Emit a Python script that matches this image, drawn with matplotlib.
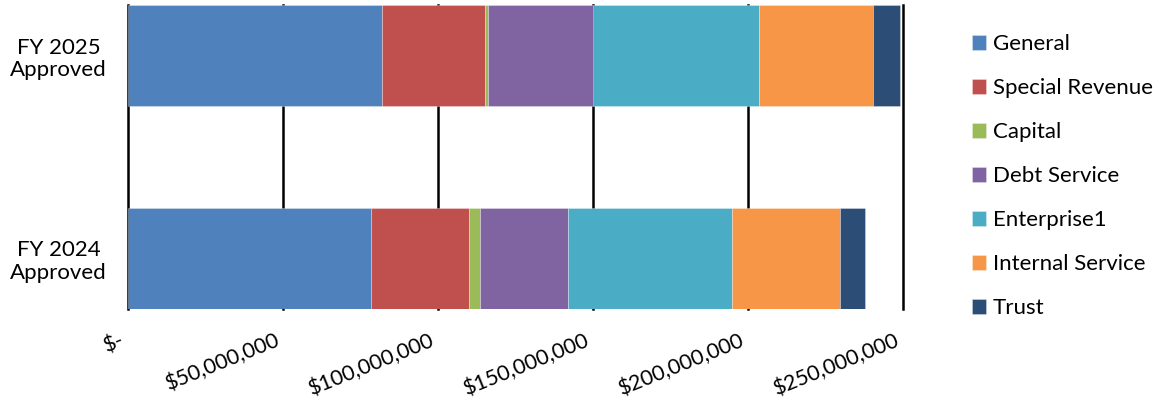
import matplotlib

matplotlib.use("Agg")
import matplotlib.pyplot as plt
from matplotlib.ticker import FuncFormatter
from matplotlib.transforms import ScaledTranslation

plt.rcParams["font.family"] = ["Lato", "DejaVu Sans"]

# Budget by fund type, in millions of dollars
years = ["FY 2024\nApproved", "FY 2025\nApproved"]
funds = ["General", "Special Revenue", "Capital", "Debt Service",
         "Enterprise1", "Internal Service", "Trust"]
fy2024 = [78.3, 31.7, 3.4, 28.6, 52.9, 34.9, 8.0]
fy2025 = [81.8, 33.4, 0.9, 33.9, 53.6, 36.6, 8.7]
colors = ["#4F81BD", "#C0504D", "#9BBB59", "#8064A2",
          "#4BACC6", "#F79646", "#2C4D75"]
xticks = [0, 50, 100, 150, 200, 250]

fig = plt.figure(figsize=(11.56, 4.01), dpi=100)
ax = fig.add_axes([128 / 1156, 1 - 309 / 401, (903 - 128) / 1156, 304 / 401])

values = [[fy2024[i], fy2025[i]] for i in range(len(funds))]
left = [0.0, 0.0]
for name, vals, col in zip(funds, values, colors):
    ax.barh([0, 1], [v * 1e6 for v in vals], left=left, height=0.5,
            color=col, edgecolor=(1, 1, 1, 0.35), linewidth=0.6,
            label=name, zorder=2)
    left = [l + v * 1e6 for l, v in zip(left, vals)]

ax.set_xlim(0, 250e6)
ax.set_ylim(-0.25, 1.25)
ax.set_xticks([t * 1e6 for t in xticks])
ax.xaxis.set_major_formatter(
    FuncFormatter(lambda x, _: "$-" if x == 0 else f"${x:,.0f}"))
ax.grid(axis="x", color="black", linewidth=1.8, zorder=0)
for gl in ax.get_xgridlines():
    gl.set_clip_on(False)
ax.set_axisbelow(True)
for s in ax.spines.values():
    s.set_visible(False)

ax.set_yticks([0, 1])
ax.set_yticklabels(years, fontsize=16, ha="center", multialignment="center",
                   linespacing=1.15)
ax.tick_params(axis="y", length=0, pad=50)
ax.tick_params(axis="x", length=0, pad=15, labelsize=15.5)
shift = ScaledTranslation(-0.08, 0, fig.dpi_scale_trans)
for lbl in ax.get_xticklabels():
    lbl.set_rotation(22)
    lbl.set_ha("right")
    lbl.set_va("top")
    lbl.set_rotation_mode("anchor")
    lbl.set_transform(lbl.get_transform() + shift)

ax.legend(loc="upper left", bbox_to_anchor=(0.833, 0.937), bbox_transform=fig.transFigure,
          frameon=False, fontsize=16, handlelength=0.65, handleheight=0.65,
          handletextpad=0.3, labelspacing=1.08, borderaxespad=0)

fig.savefig("out.png", dpi=100, facecolor="white")
